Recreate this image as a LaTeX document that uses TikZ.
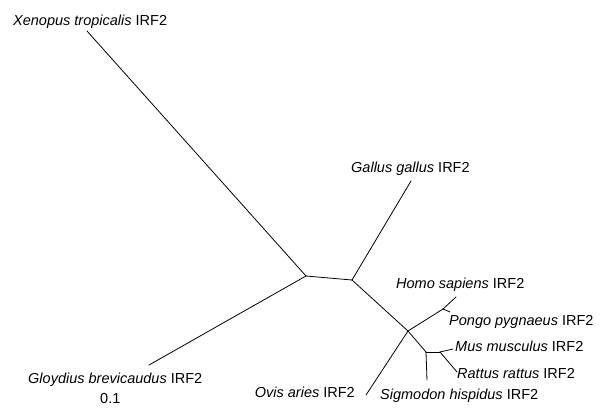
\documentclass[tikz,border=0pt]{standalone}
\usepackage{fontspec}
\setmainfont{Liberation Sans}
\begin{document}
\begin{tikzpicture}[x=1pt,y=-1pt,
  branch/.style={line width=0.8pt, line cap=round, line join=round},
  lab/.style={inner sep=0pt, font=\fontsize{14.5}{16}\selectfont}]
\useasboundingbox (0,0) rectangle (602,407);
% internal nodes
\coordinate (A) at (306,276);
\coordinate (B) at (352,280);
\coordinate (C) at (408,331);
\coordinate (D) at (443,309);
\coordinate (E) at (426,352);
\coordinate (F) at (440,352);
% tips
\coordinate (tXen) at (87,31);
\coordinate (tGlo) at (149,365);
\coordinate (tGal) at (411,181);
\coordinate (tHom) at (456,297);
\coordinate (tPon) at (450,312);
\coordinate (tMus) at (453,349);
\coordinate (tRat) at (457,372);
\coordinate (tSig) at (427,380);
\coordinate (tOvi) at (366,395);
% branches
\draw[branch] (tXen) -- (A);
\draw[branch] (tGlo) -- (A);
\draw[branch] (A) -- (B);
\draw[branch] (B) -- (tGal);
\draw[branch] (B) -- (C);
\draw[branch] (C) -- (D);
\draw[branch] (D) -- (tHom);
\draw[branch] (D) -- (tPon);
\draw[branch] (C) -- (tOvi);
\draw[branch] (C) -- (E);
\draw[branch] (E) -- (tSig);
\draw[branch] (E) -- (F);
\draw[branch] (F) -- (tMus);
\draw[branch] (F) -- (tRat);
% labels
\node[lab, anchor=base west] (lXen) at (13,25) {\textit{Xenopus tropicalis} IRF2};
\node[lab, anchor=base west] (lGal) at (351,172) {\textit{Gallus gallus} IRF2};
\node[lab, anchor=base west] (lHom) at (396,288) {\textit{Homo sapiens} IRF2};
\node[lab, anchor=base west] (lPon) at (449,325) {\textit{Pongo pygnaeus} IRF2};
\node[lab, anchor=base west] (lMus) at (455,351) {\textit{Mus musculus} IRF2};
\node[lab, anchor=base west] (lRat) at (457,378) {\textit{Rattus rattus} IRF2};
\node[lab, anchor=base west] (lSig) at (380,399) {\textit{Sigmodon hispidus} IRF2};
\node[lab, anchor=base east] (lOvi) at (355,397) {\textit{Ovis aries} IRF2};
\node[lab, anchor=base west] (lGlo) at (28,383) {\textit{Gloydius brevicaudus} IRF2};
\node[lab, anchor=base west] (lScale) at (100,403) {0.1};
\end{tikzpicture}
\end{document}
